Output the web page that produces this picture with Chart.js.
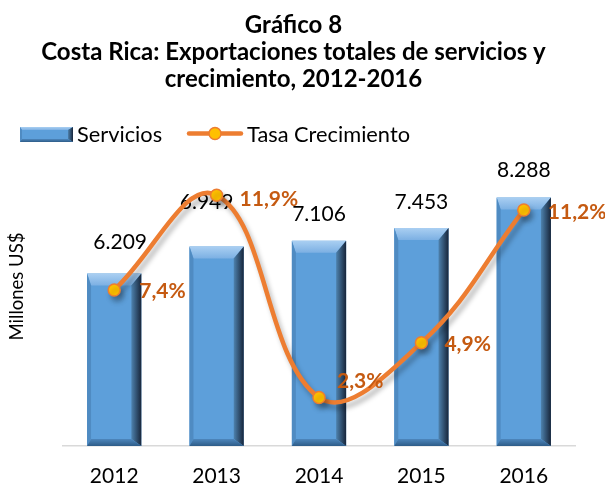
<!DOCTYPE html>
<html><head><meta charset="utf-8">
<script src="https://cdn.jsdelivr.net/npm/chart.js@4.4.1/dist/chart.umd.min.js"></script>
<style>html,body{margin:0;padding:0;background:#fff}#wrap{width:605px;height:486px}</style>
</head><body><div id="wrap"><canvas id="c" width="605" height="486"></canvas></div>
<script>
// ---- data ----
const categories = ['2012', '2013', '2014', '2015', '2016'];
const servicios = [6209, 6949, 7106, 7453, 8288];
const tasaCrecimiento = [7.4, 11.9, 2.3, 4.9, 11.2];
const seriesNames = ['Servicios', 'Tasa Crecimiento'];
const titleLines = ['Gráfico 8', 'Costa Rica: Exportaciones totales de servicios y', 'crecimiento, 2012-2016'];
const yAxisTitle = 'Millones US$';

// ---- style ----
const FONT = 'Lato';
const Y_MIN = 1500, Y_MAX = 9500, Y1_MAX = 13.9;
const barLabelOffsets = [[6, -31], [-10, -44], [0, -26], [0, -26], [0, -27]];
const pctLabelOffsets = [[25, 1], [23, 4], [18, -16], [23, 2], [24, 2]];
const ORANGE = '#ED7D31', YELLOW = '#FFC000', PCT = '#C55A11', BLUE = '#5D9FDA';

function fmtThousands(v) { return String(v).replace(/\B(?=(\d{3})+(?!\d))/g, '.'); }
function fmtPct(v) { return v.toFixed(1).replace('.', ',') + '%'; }

function poly(ctx, pts) {
  ctx.beginPath(); ctx.moveTo(pts[0][0], pts[0][1]);
  for (let i = 1; i < pts.length; i++) ctx.lineTo(pts[i][0], pts[i][1]);
  ctx.closePath(); ctx.fill();
}
function drawBevel(ctx, L, T, R, B, s) {
  let g = ctx.createLinearGradient(0, T, 0, T + s.t);
  g.addColorStop(0, '#AACFF2'); g.addColorStop(1, '#7CB0E3');
  ctx.fillStyle = g; poly(ctx, [[L, T], [R, T], [R - s.r, T + s.t], [L + s.l, T + s.t]]);
  g = ctx.createLinearGradient(R - s.r, 0, R, 0);
  g.addColorStop(0, '#4E82AE'); g.addColorStop(1, '#17253A');
  ctx.fillStyle = g; poly(ctx, [[R, T], [R, B], [R - s.r, B - s.b], [R - s.r, T + s.t]]);
  ctx.fillStyle = '#4F8BC2'; poly(ctx, [[L, T], [L + s.l, T + s.t], [L + s.l, B - s.b], [L, B]]);
  g = ctx.createLinearGradient(0, B - s.b, 0, B);
  g.addColorStop(0, '#4D86BC'); g.addColorStop(1, '#2E5C88');
  ctx.fillStyle = g; poly(ctx, [[L, B], [L + s.l, B - s.b], [R - s.r, B - s.b], [R, B]]);
}

const decoPlugin = {
  id: 'deco',
  beforeDatasetDraw(chart, args) {
    if (args.index === 0) {
      const ctx = chart.ctx; ctx.save();
      ctx.shadowColor = 'rgba(0,0,0,0.28)'; ctx.shadowBlur = 5; ctx.shadowOffsetX = 3; ctx.shadowOffsetY = 5;
    }
  },
  afterDatasetDraw(chart, args) {
    const ctx = chart.ctx;
    if (args.index === 0) { ctx.restore(); return; }
    if (args.index === 1) {
      const meta = chart.getDatasetMeta(1);
      meta.data.forEach((bar) => {
        const w = bar.width, L = bar.x - w / 2, R = bar.x + w / 2;
        const T = Math.min(bar.y, bar.base), B = Math.max(bar.y, bar.base);
        drawBevel(ctx, L, T, R, B, { t: 12, r: 10, l: 4, b: 7 });
      });
      ctx.save();
      ctx.font = '21px ' + FONT; ctx.fillStyle = '#000'; ctx.textAlign = 'center'; ctx.textBaseline = 'middle';
      meta.data.forEach((bar, i) => {
        const o = barLabelOffsets[i];
        ctx.fillText(fmtThousands(servicios[i]), bar.x + o[0], Math.min(bar.y, bar.base) + o[1]);
      });
      ctx.restore();
    }
  },
  afterDatasetsDraw(chart) {
    const ctx = chart.ctx, meta = chart.getDatasetMeta(0);
    ctx.save();
    ctx.font = 'bold 21px ' + FONT; ctx.fillStyle = PCT; ctx.textAlign = 'left'; ctx.textBaseline = 'middle';
    meta.data.forEach((pt, i) => {
      const o = pctLabelOffsets[i];
      ctx.fillText(fmtPct(tasaCrecimiento[i]), pt.x + o[0], pt.y + o[1]);
    });
    ctx.restore();
  },
  afterDraw(chart) {
    const ctx = chart.ctx;
    ctx.save();
    ctx.translate(17, 286.5); ctx.rotate(-Math.PI / 2);
    ctx.font = '18.5px ' + FONT; ctx.fillStyle = '#000'; ctx.textAlign = 'center'; ctx.textBaseline = 'middle';
    ctx.fillText(yAxisTitle, 0, 0);
    ctx.restore();
    // legend
    ctx.save();
    ctx.fillStyle = BLUE; ctx.fillRect(20, 127, 53, 15);
    drawBevel(ctx, 20, 127, 73, 142, { t: 3, r: 5, l: 2, b: 3 });
    ctx.font = '21.8px ' + FONT; ctx.fillStyle = '#000'; ctx.textAlign = 'left'; ctx.textBaseline = 'middle';
    ctx.fillText(seriesNames[0], 77, 134.5);
    ctx.strokeStyle = ORANGE; ctx.lineWidth = 4.5; ctx.lineCap = 'round';
    ctx.beginPath(); ctx.moveTo(189, 133.5); ctx.lineTo(241, 133.5); ctx.stroke();
    ctx.beginPath(); ctx.arc(215, 133.5, 6, 0, Math.PI * 2); ctx.fillStyle = YELLOW; ctx.fill();
    ctx.lineWidth = 1.5; ctx.stroke();
    ctx.fillStyle = '#000';
    ctx.fillText(seriesNames[1], 247, 134.5);
    ctx.restore();
  }
};

new Chart(document.getElementById('c'), {
  data: {
    labels: categories,
    datasets: [
      {
        type: 'line', label: seriesNames[1], data: tasaCrecimiento, yAxisID: 'y1',
        borderColor: ORANGE, borderWidth: 4.5, tension: 0.4,
        pointRadius: 6, pointBackgroundColor: YELLOW, pointBorderColor: ORANGE, pointBorderWidth: 1.5,
        clip: false
      },
      {
        type: 'bar', label: seriesNames[0], data: servicios, yAxisID: 'y', base: Y_MIN,
        backgroundColor: BLUE, borderWidth: 0, categoryPercentage: 1, barPercentage: 0.53
      }
    ]
  },
  options: {
    responsive: false, animation: false, devicePixelRatio: 1,
    layout: { padding: { left: 0, right: 18, top: 0, bottom: 0 } },
    plugins: {
      legend: { display: false },
      tooltip: { enabled: false },
      title: {
        display: true, text: titleLines, color: '#000',
        font: { family: FONT, size: 24, weight: 'bold', lineHeight: 27 / 24 },
        padding: { top: 12, bottom: 60 }
      }
    },
    scales: {
      x: {
        grid: { display: false, drawTicks: false },
        border: { color: '#D9D9D9', width: 1.5 },
        ticks: { font: { family: FONT, size: 21 }, color: '#000', padding: 18 },
        afterFit(s) { s.height = 40; }
      },
      y: {
        position: 'left', min: Y_MIN, max: Y_MAX,
        ticks: { display: false }, grid: { display: false, drawTicks: false }, border: { display: false },
        afterFit(s) { s.width = 63; }
      },
      y1: {
        position: 'right', min: 0, max: Y1_MAX,
        ticks: { display: false }, grid: { display: false, drawTicks: false }, border: { display: false },
        afterFit(s) { s.width = 12; }
      }
    }
  },
  plugins: [decoPlugin]
});
</script>
</body></html>
